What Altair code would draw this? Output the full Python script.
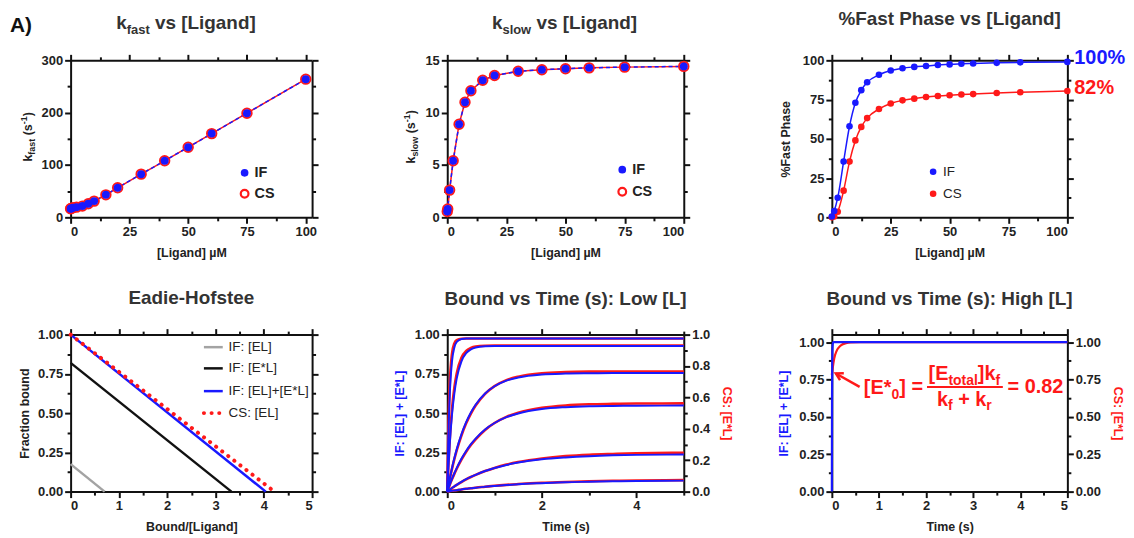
import altair as alt
import pandas as pd

FONT = "Liberation Sans"
BLUE = "#1919ff"
RED = "#ff1919"
GRAY = "#a3a3a3"
BLACK = "#111111"
INK = "#222222"
TINK = "#333333"

# ------------------------------------------------------------------ data
lig_rate = [0, 0.2, 1, 2.5, 5, 7.5, 10, 15, 20, 30, 40, 50, 60, 75, 100]
kfast_if = [16.5, 17, 18.2, 19.5, 21.5, 26, 31, 43, 56.5, 82.5, 108, 134, 160, 199, 264]
kfast_cs = [16.5, 17, 18.2, 19.5, 21.5, 26, 31, 43, 56.5, 82.5, 108, 134, 160, 199, 264]
kslow_if = [0.55, 0.8, 2.6, 5.4, 8.9, 11.0, 12.1, 13.1, 13.55, 13.95, 14.1, 14.2, 14.28, 14.35, 14.42]
kslow_cs = [0.55, 0.8, 2.6, 5.4, 8.9, 11.0, 12.1, 13.1, 13.55, 13.95, 14.1, 14.2, 14.28, 14.35, 14.42]

lig_pct = [0, 1, 2.5, 5, 7.5, 10, 12.5, 15, 20, 25, 30, 35, 40, 45, 50, 55, 60, 70, 80, 100]
pct_if = [0.5, 4, 12.5, 35.5, 58, 73, 81, 86, 90.8, 93.5, 95, 95.8, 96.4, 97, 97.4, 97.8, 98, 98.4, 98.7, 99]
pct_cs = [0, 0.5, 3.6, 17, 35.5, 49, 57.6, 63.2, 69, 72.5, 74.5, 75.6, 76.6, 77.3, 77.8, 78.2, 78.5, 79.2, 79.7, 80.5]

eh_gray_x = [0, 0.705]
eh_gray_y = [0.175, 0]
eh_black_x = [0, 3.33]
eh_black_y = [0.82, 0]
eh_blue_x = [0, 4.04]
eh_blue_y = [1.0, 0]
eh_red_x = [0, 4.22]
eh_red_y = [1.0, 0]
eh_labels = ["IF: [EL]", "IF: [E*L]", "IF: [EL]+[E*L]", "CS: [EL]"]
eh_leg_y = [0.92, 0.785, 0.64, 0.50]
eh_leg_x = [2.76, 3.15]
eh_leg_tx = 3.27

t_low = [0, 0.02, 0.05, 0.1, 0.15, 0.2, 0.3, 0.4, 0.5, 0.6, 0.8, 1.0, 1.25, 1.5, 2.0, 2.5, 3.0, 3.5, 4.0, 5.0]
low_if = [
    [0, 0.308, 0.597, 0.829, 0.918, 0.953, 0.972, 0.975, 0.975, 0.975, 0.975, 0.975, 0.975, 0.975, 0.975, 0.975, 0.975, 0.975, 0.975, 0.975],
    [0, 0.129, 0.290, 0.490, 0.626, 0.721, 0.830, 0.882, 0.906, 0.918, 0.926, 0.928, 0.928, 0.928, 0.928, 0.928, 0.928, 0.928, 0.928, 0.928],
    [0, 0.032, 0.079, 0.149, 0.212, 0.269, 0.365, 0.442, 0.504, 0.553, 0.625, 0.671, 0.707, 0.727, 0.746, 0.752, 0.754, 0.755, 0.755, 0.755],
    [0, 0.017, 0.042, 0.081, 0.117, 0.150, 0.209, 0.259, 0.302, 0.338, 0.396, 0.437, 0.474, 0.498, 0.526, 0.538, 0.544, 0.546, 0.547, 0.548],
    [0, 0.005, 0.012, 0.023, 0.033, 0.043, 0.062, 0.079, 0.094, 0.107, 0.131, 0.150, 0.170, 0.185, 0.206, 0.218, 0.226, 0.231, 0.234, 0.236],
    [0, 0.001, 0.0025, 0.005, 0.007, 0.009, 0.014, 0.018, 0.021, 0.025, 0.031, 0.036, 0.042, 0.047, 0.054, 0.060, 0.063, 0.066, 0.068, 0.070],
]
low_cs = [
    [0, 0.360, 0.666, 0.877, 0.944, 0.965, 0.974, 0.975, 0.975, 0.975, 0.975, 0.975, 0.975, 0.975, 0.975, 0.975, 0.975, 0.975, 0.975, 0.975],
    [0, 0.142, 0.316, 0.525, 0.662, 0.753, 0.853, 0.896, 0.915, 0.924, 0.929, 0.930, 0.930, 0.930, 0.930, 0.930, 0.930, 0.930, 0.930, 0.930],
    [0, 0.031, 0.077, 0.145, 0.207, 0.262, 0.357, 0.435, 0.497, 0.548, 0.623, 0.672, 0.710, 0.732, 0.754, 0.761, 0.764, 0.765, 0.765, 0.765],
    [0, 0.017, 0.041, 0.078, 0.113, 0.146, 0.204, 0.254, 0.297, 0.333, 0.393, 0.437, 0.476, 0.503, 0.534, 0.549, 0.556, 0.559, 0.561, 0.562],
    [0, 0.005, 0.011, 0.022, 0.033, 0.043, 0.061, 0.078, 0.093, 0.107, 0.131, 0.151, 0.172, 0.188, 0.211, 0.226, 0.235, 0.240, 0.244, 0.248],
    [0, 0.001, 0.0025, 0.005, 0.007, 0.009, 0.014, 0.018, 0.021, 0.025, 0.031, 0.037, 0.043, 0.048, 0.056, 0.061, 0.066, 0.069, 0.071, 0.073],
]

t_high_if = [0, 0.004, 0.008, 0.015, 0.025, 0.04, 0.1, 1, 5]
high_if = [0, 0.6, 0.85, 0.97, 0.995, 1.0, 1.0, 1.0, 1.0]
t_high_cs = [0, 0.02, 0.05, 0.1, 0.15, 0.2, 0.3, 0.4, 0.6, 1, 5]
high_cs = [0.78, 0.83, 0.89, 0.94, 0.965, 0.98, 0.993, 0.998, 1.0, 1.0, 1.0]

# annotation anchors (data coordinates of panel F)
eq_anchor = {"t": 0.68, "y": 0.70}
eq_bar_t = [2.02, 3.63]
arrow_t = [0.59, 0.085]
arrow_y = [0.70, 0.79]
head_t = [0.174, 0.085, 0.254]
head_y = [0.746, 0.791, 0.792]

# ------------------------------------------------------------------ helpers
AW = {' ': 278, 'k': 556, 'f': 333, 'a': 556, 's': 556, 't': 333, 'v': 556, '[': 333, ']': 333,
      'L': 611, 'i': 278, 'g': 611, 'n': 611, 'd': 611, 'l': 278, 'o': 611, 'w': 778, '(': 333,
      ')': 333, '-': 333, '1': 556, 'E': 667, '*': 389, '0': 556, '=': 584, 'r': 389, '+': 584,
      '.': 278, '8': 556, '2': 556}


def tw(s, size):
    return sum(AW.get(c, 556) for c in s) * size / 1000.0


ONE = pd.DataFrame({"k": [0]})


def ptext(s, x, y, size, color=INK, weight="bold", angle=0, align="left", baseline="alphabetic"):
    return alt.Chart(ONE).mark_text(text=s, font=FONT, fontSize=size, fontWeight=weight, color=color,
                                    angle=angle, align=align, baseline=baseline).encode(
        x=alt.value(x), y=alt.value(y))


def rich_h(parts, x0, y0, color=INK):
    out = []
    cur = x0
    for s, size, dy in parts:
        lead = len(s) - len(s.lstrip(" "))
        cur += tw(" " * lead, size)
        s2 = s.strip(" ")
        out.append(ptext(s2, cur, y0 + dy, size, color))
        cur += tw(s2, size)
    return out


def rich_v(parts, x0, ycenter, color=INK):
    total = sum(tw(s, size) for s, size, _ in parts)
    cur = ycenter + total / 2.0
    out = []
    for s, size, dx in parts:
        lead = len(s) - len(s.lstrip(" "))
        cur -= tw(" " * lead, size)
        s2 = s.strip(" ")
        out.append(ptext(s2, x0 + dx, cur, size, color, angle=270))
        cur -= tw(s2, size)
    return out


def axis(orient, majors, minors, labels, fmt=None, title=None, tcolor=None, tpad=None):
    test = "(" + " || ".join("abs(datum.value - %s) < 1e-9" % v for v in majors) + ")"
    kw = dict(orient=orient, values=sorted(majors + minors),
              tickSize={"condition": {"test": test, "value": 6}, "value": 3.5},
              grid=False, title=title)
    if labels:
        kw["labelExpr"] = test + " ? datum.label : ''"
        kw["labelPadding"] = 2
        if fmt:
            kw["format"] = fmt
    else:
        kw["labels"] = False
    if tcolor:
        kw["titleColor"] = tcolor
    if tpad is not None:
        kw["titlePadding"] = tpad
    return alt.Axis(**kw)


def sc(dom):
    return alt.Scale(domain=dom, nice=False, zero=False)


def XY(xf, yf, xs, ys, xa=None, ya=None):
    return dict(x=alt.X(xf, type="quantitative", scale=xs, axis=xa),
                y=alt.Y(yf, type="quantitative", scale=ys, axis=ya))


W1, W2, W3, H = 243, 238, 237, 158
ROWGAP = 118
BPAD = 8
LIG_MAJ = [0, 25, 50, 75, 100]
LIG_MIN = [12.5, 37.5, 62.5, 87.5]


# ------------------------------------------------------------------ panel A1 / A2 (rates)
def rate_panel(ifv, csv, xmax, ydom, ymaj, ymin, sub, ytitle_x, leg_y, title_x0):
    d = pd.DataFrame({"L": lig_rate, "IF": ifv, "CS": csv})
    xs, ys = sc([0, xmax]), sc(ydom)
    b = axis("bottom", LIG_MAJ, LIG_MIN, True, ".0f", "[Ligand] µM", tpad=BPAD)
    t = axis("top", LIG_MAJ, LIG_MIN, False)
    l = axis("left", ymaj, ymin, True, ".0f")
    r = axis("right", ymaj, ymin, False)
    layers = [
        alt.Chart(d).mark_line(color=RED, strokeWidth=1.5).encode(**XY("L", "CS", xs, ys, b, l)),
        alt.Chart(d).mark_line(color=BLUE, strokeWidth=1.5, strokeDash=[4, 3]).encode(**XY("L", "IF", xs, ys, t, r)),
        alt.Chart(d).mark_point(shape="circle", filled=False, color=RED, size=90, strokeWidth=2, opacity=1).encode(**XY("L", "CS", xs, ys)),
        alt.Chart(d).mark_circle(color=BLUE, size=64, opacity=1).encode(**XY("L", "IF", xs, ys)),
    ]
    lg = pd.DataFrame({"x": [74, 74], "y": leg_y, "lab": ["IF", "CS"]})
    layers += [
        alt.Chart(lg.iloc[[0]]).mark_circle(color=BLUE, size=60, opacity=1).encode(**XY("x", "y", xs, ys)),
        alt.Chart(lg.iloc[[1]]).mark_point(shape="circle", filled=False, color=RED, size=60, strokeWidth=2.2, opacity=1).encode(**XY("x", "y", xs, ys)),
        alt.Chart(lg).mark_text(align="left", baseline="middle", dx=10, font=FONT, fontSize=14.5, fontWeight="bold", color=INK).encode(
            text="lab:N", **XY("x", "y", xs, ys)),
    ]
    layers += rich_h([("k", 19, 0), (sub, 13, 6), (" vs [Ligand]", 19, 0)], title_x0, -32, TINK)
    layers += rich_v([("k", 12.5, 0), (sub, 9, 3), (" (s", 12.5, 0), ("-1", 9, -5), (")", 12.5, 0)], ytitle_x, H / 2 - 2, INK)
    return layers


pA = rate_panel(kfast_if, kfast_cs, 102.7, [0, 300], [0, 100, 200, 300], [50, 150, 250], "fast", -39, [85, 45], 46)
pA += [ptext("A)", -61, -29, 21, "#111111")]
pA = alt.layer(*pA).resolve_axis(x="independent", y="independent").properties(width=W1, height=H)

pB = rate_panel(kslow_if, kslow_cs, 100, [0, 15], [0, 5, 10, 15], [2.5, 7.5, 12.5], "slow", -32, [4.55, 2.45], 45)
pB = alt.layer(*pB).resolve_axis(x="independent", y="independent").properties(width=W2, height=H)


def ptitle(text, off=19):
    return alt.TitleParams(text=text, font=FONT, fontSize=19, fontWeight="bold", color=TINK,
                           anchor="middle", frame="group", offset=off)


# ------------------------------------------------------------------ panel A3 (% fast)
d3 = pd.DataFrame({"L": lig_pct, "IF": pct_if, "CS": pct_cs})
xs3, ys3 = sc([0, 100]), sc([0, 100])
P_MAJ = [0, 25, 50, 75, 100]
P_MIN = [12.5, 37.5, 62.5, 87.5]
l3 = [
    alt.Chart(d3).mark_line(color=RED, strokeWidth=1.5, interpolate="monotone").encode(
        **XY("L", "CS", xs3, ys3, axis("bottom", LIG_MAJ, LIG_MIN, True, ".0f", "[Ligand] µM", tpad=BPAD),
             axis("left", P_MAJ, P_MIN, True, ".0f", "%Fast Phase", tpad=10))),
    alt.Chart(d3).mark_line(color=BLUE, strokeWidth=1.5, interpolate="monotone").encode(
        **XY("L", "IF", xs3, ys3, axis("top", LIG_MAJ, LIG_MIN, False), axis("right", P_MAJ, P_MIN, False))),
    alt.Chart(d3).mark_circle(color=RED, size=44, opacity=1).encode(**XY("L", "CS", xs3, ys3)),
    alt.Chart(d3).mark_circle(color=BLUE, size=44, opacity=1).encode(**XY("L", "IF", xs3, ys3)),
]
lg3 = pd.DataFrame({"x": [43, 43], "y": [29, 15], "lab": ["IF", "CS"], "c": [BLUE, RED]})
l3 += [
    alt.Chart(lg3).mark_circle(size=44, opacity=1).encode(color=alt.Color("c:N", scale=None), **XY("x", "y", xs3, ys3)),
    alt.Chart(lg3).mark_text(align="left", baseline="middle", dx=10, font=FONT, fontSize=13.5, color=INK).encode(
        text="lab:N", **XY("x", "y", xs3, ys3)),
]
ends = pd.DataFrame({"x": [100, 100], "y": [101.5, 82.5], "lab": ["100%", "82%"], "c": [BLUE, RED]})
l3 += [alt.Chart(ends).mark_text(align="left", baseline="middle", dx=7, font=FONT, fontSize=20, fontWeight="bold").encode(
    text="lab:N", color=alt.Color("c:N", scale=None), **XY("x", "y", xs3, ys3))]
pC = alt.layer(*l3).resolve_axis(x="independent", y="independent").properties(
    width=W3, height=H, title=ptitle("%Fast Phase vs [Ligand]"))

# ------------------------------------------------------------------ panel B1 (Eadie-Hofstee)
xs4, ys4 = sc([0, 5]), sc([0, 1])
F_MAJ = [0, 0.25, 0.5, 0.75, 1]
F_MIN = [0.125, 0.375, 0.625, 0.875]
T_MAJ = [0, 1, 2, 3, 4, 5]
T_MIN = [0.5, 1.5, 2.5, 3.5, 4.5]


def eh_df(xv, yv, ly):
    return pd.DataFrame({"x": list(xv) + eh_leg_x, "y": list(yv) + [ly, ly], "g": ["m", "m", "l", "l"]})


l4 = [
    alt.Chart(eh_df(eh_gray_x, eh_gray_y, eh_leg_y[0])).mark_line(color=GRAY, strokeWidth=2.5).encode(
        detail="g:N", **XY("x", "y", xs4, ys4, axis("bottom", T_MAJ, T_MIN, True, ".0f", "Bound/[Ligand]", tpad=BPAD),
                            axis("left", F_MAJ, F_MIN, True, ".2f", "Fraction bound", tpad=6))),
    alt.Chart(eh_df(eh_black_x, eh_black_y, eh_leg_y[1])).mark_line(color=BLACK, strokeWidth=2.5).encode(
        detail="g:N", **XY("x", "y", xs4, ys4, axis("top", T_MAJ, T_MIN, False), axis("right", F_MAJ, F_MIN, False))),
    alt.Chart(eh_df(eh_blue_x, eh_blue_y, eh_leg_y[2])).mark_line(color=BLUE, strokeWidth=2.5).encode(
        detail="g:N", **XY("x", "y", xs4, ys4)),
    alt.Chart(eh_df(eh_red_x, eh_red_y, eh_leg_y[3])).mark_line(color=RED, strokeWidth=4, strokeDash=[0.1, 7.6],
                                                               strokeCap="round").encode(
        detail="g:N", **XY("x", "y", xs4, ys4)),
]
lg4 = pd.DataFrame({"x": [eh_leg_tx] * 4, "y": eh_leg_y, "lab": eh_labels})
l4 += [alt.Chart(lg4).mark_text(align="left", baseline="middle", font=FONT, fontSize=13.5, color=INK).encode(
    text="lab:N", **XY("x", "y", xs4, ys4))]
pD = alt.layer(*l4).resolve_axis(x="independent", y="independent").properties(
    width=W1, height=H, title=ptitle("Eadie-Hofstee"))

# ------------------------------------------------------------------ panel B2 (low L)
rows_if, rows_cs = [], []
for i, (a, b) in enumerate(zip(low_if, low_cs)):
    for t, va, vb in zip(t_low, a, b):
        rows_if.append({"t": t, "v": va, "c": i})
        rows_cs.append({"t": t, "v": vb, "c": i})
dIF, dCS = pd.DataFrame(rows_if), pd.DataFrame(rows_cs)
xs5, ys5 = sc([0, 5]), sc([0, 1])
R_MAJ = [0, 0.2, 0.4, 0.6, 0.8, 1]
R_MIN = [0.1, 0.3, 0.5, 0.7, 0.9]
l5 = [
    alt.Chart(dCS).mark_line(color=RED, strokeWidth=2.6, interpolate="monotone").encode(
        detail="c:N", **XY("t", "v", xs5, ys5, axis("bottom", [0, 2, 4], [1, 3, 5], True, ".0f", "Time (s)", tpad=BPAD),
                            axis("left", F_MAJ, F_MIN, True, ".2f", "IF: [EL] + [E*L]", BLUE, tpad=8))),
    alt.Chart(dIF).mark_line(color=BLUE, strokeWidth=2, interpolate="monotone").encode(
        detail="c:N", **XY("t", "v", xs5, ys5, axis("top", [0, 2, 4], [1, 3, 5], False),
                            axis("right", R_MAJ, R_MIN, True, ".1f", "CS: [E*L]", RED, tpad=10))),
]
pE = alt.layer(*l5).resolve_axis(x="independent", y="independent").properties(
    width=W2, height=H, title=ptitle("Bound vs Time (s): Low [L]"))

# ------------------------------------------------------------------ panel B3 (high L)
xs6, ys6 = sc([0, 5]), sc([0, 1.05])
dh_if = pd.DataFrame({"t": t_high_if, "v": high_if})
dh_cs = pd.DataFrame({"t": t_high_cs, "v": high_cs})
l6 = [
    alt.Chart(dh_cs).mark_line(color=RED, strokeWidth=2.2, interpolate="monotone").encode(
        **XY("t", "v", xs6, ys6, axis("bottom", T_MAJ, T_MIN, True, ".0f", "Time (s)", tpad=BPAD),
             axis("left", F_MAJ, F_MIN, True, ".2f", "IF: [EL] + [E*L]", BLUE, tpad=8))),
    alt.Chart(dh_if).mark_line(color=BLUE, strokeWidth=2.2, interpolate="monotone").encode(
        **XY("t", "v", xs6, ys6, axis("top", T_MAJ, T_MIN, False),
             axis("right", F_MAJ, F_MIN, True, ".2f", "CS: [E*L]", RED, tpad=10))),
]
darr = pd.DataFrame({"t": arrow_t, "v": arrow_y, "o": [0, 1]})
dhead = pd.DataFrame({"t": head_t, "v": head_y, "o": [0, 1, 2]})
dbar = pd.DataFrame({"t": [eq_bar_t[0]], "t2": [eq_bar_t[1]], "v": [eq_anchor["y"]]})
l6 += [
    alt.Chart(darr).mark_line(color=RED, strokeWidth=2.5).encode(order="o:Q", **XY("t", "v", xs6, ys6)),
    alt.Chart(dhead).mark_line(color=RED, strokeWidth=2.5, strokeJoin="miter").encode(order="o:Q", **XY("t", "v", xs6, ys6)),
    alt.Chart(dbar).mark_rule(color=RED, strokeWidth=2).encode(x2="t2:Q", **XY("t", "v", xs6, ys6)),
]
danc = pd.DataFrame({"t": [eq_anchor["t"]], "v": [eq_anchor["y"]]})


def eqt(s, dx, dy, size):
    return alt.Chart(danc).mark_text(text=s, align="left", baseline="alphabetic", dx=dx, dy=dy, font=FONT,
                                     fontSize=size, fontWeight="bold", color=RED).encode(**XY("t", "v", xs6, ys6))


eq_parts = [
    ("[E*", 0, 7, 20), ("0", 27.8, 12, 14), ("]", 35.6, 7, 20), ("=", 47.9, 6.5, 20),
    ("[E", 65.1, -7, 20), ("total", 85.1, -2, 14), ("]k", 114.7, -7, 20), ("f", 132.5, -2, 14),
    ("k", 73.5, 19, 20), ("f", 84.6, 23, 14), ("+", 94.9, 19, 20), ("k", 112.1, 19, 20), ("r", 123.2, 23, 14),
    ("= 0.82", 144.6, 6.5, 20),
]
l6 += [eqt(s, dx, dy, size) for s, dx, dy, size in eq_parts]
pF = alt.layer(*l6).resolve_axis(x="independent", y="independent").properties(
    width=W3, height=H, title=ptitle("Bound vs Time (s): High [L]"))


# ------------------------------------------------------------------ layout
def spacer(w):
    return alt.Chart(ONE).mark_point(opacity=0).encode(
        x=alt.X("k:Q", axis=None), y=alt.Y("k:Q", axis=None)).properties(width=w, height=H)


chart = alt.concat(pA, spacer(136), pB, spacer(149), pC,
                   pD, spacer(136), pE, spacer(149), pF,
                   columns=5, spacing={"row": ROWGAP, "column": 0}, bounds="flush").properties(
    padding={"left": 2, "top": 0, "right": 0, "bottom": 0}
).configure_view(stroke=None).configure_axis(
    domainColor=BLACK, domainWidth=2, tickColor=BLACK, tickWidth=2,
    labelFont=FONT, labelFontSize=13, labelFontWeight="bold", labelColor=INK, labelOverlap=False,
    titleFont=FONT, titleFontSize=12.5, titleFontWeight="bold", titleColor=INK, grid=False)

chart.save("out.html", embed_options={"renderer": "svg", "actions": False})
